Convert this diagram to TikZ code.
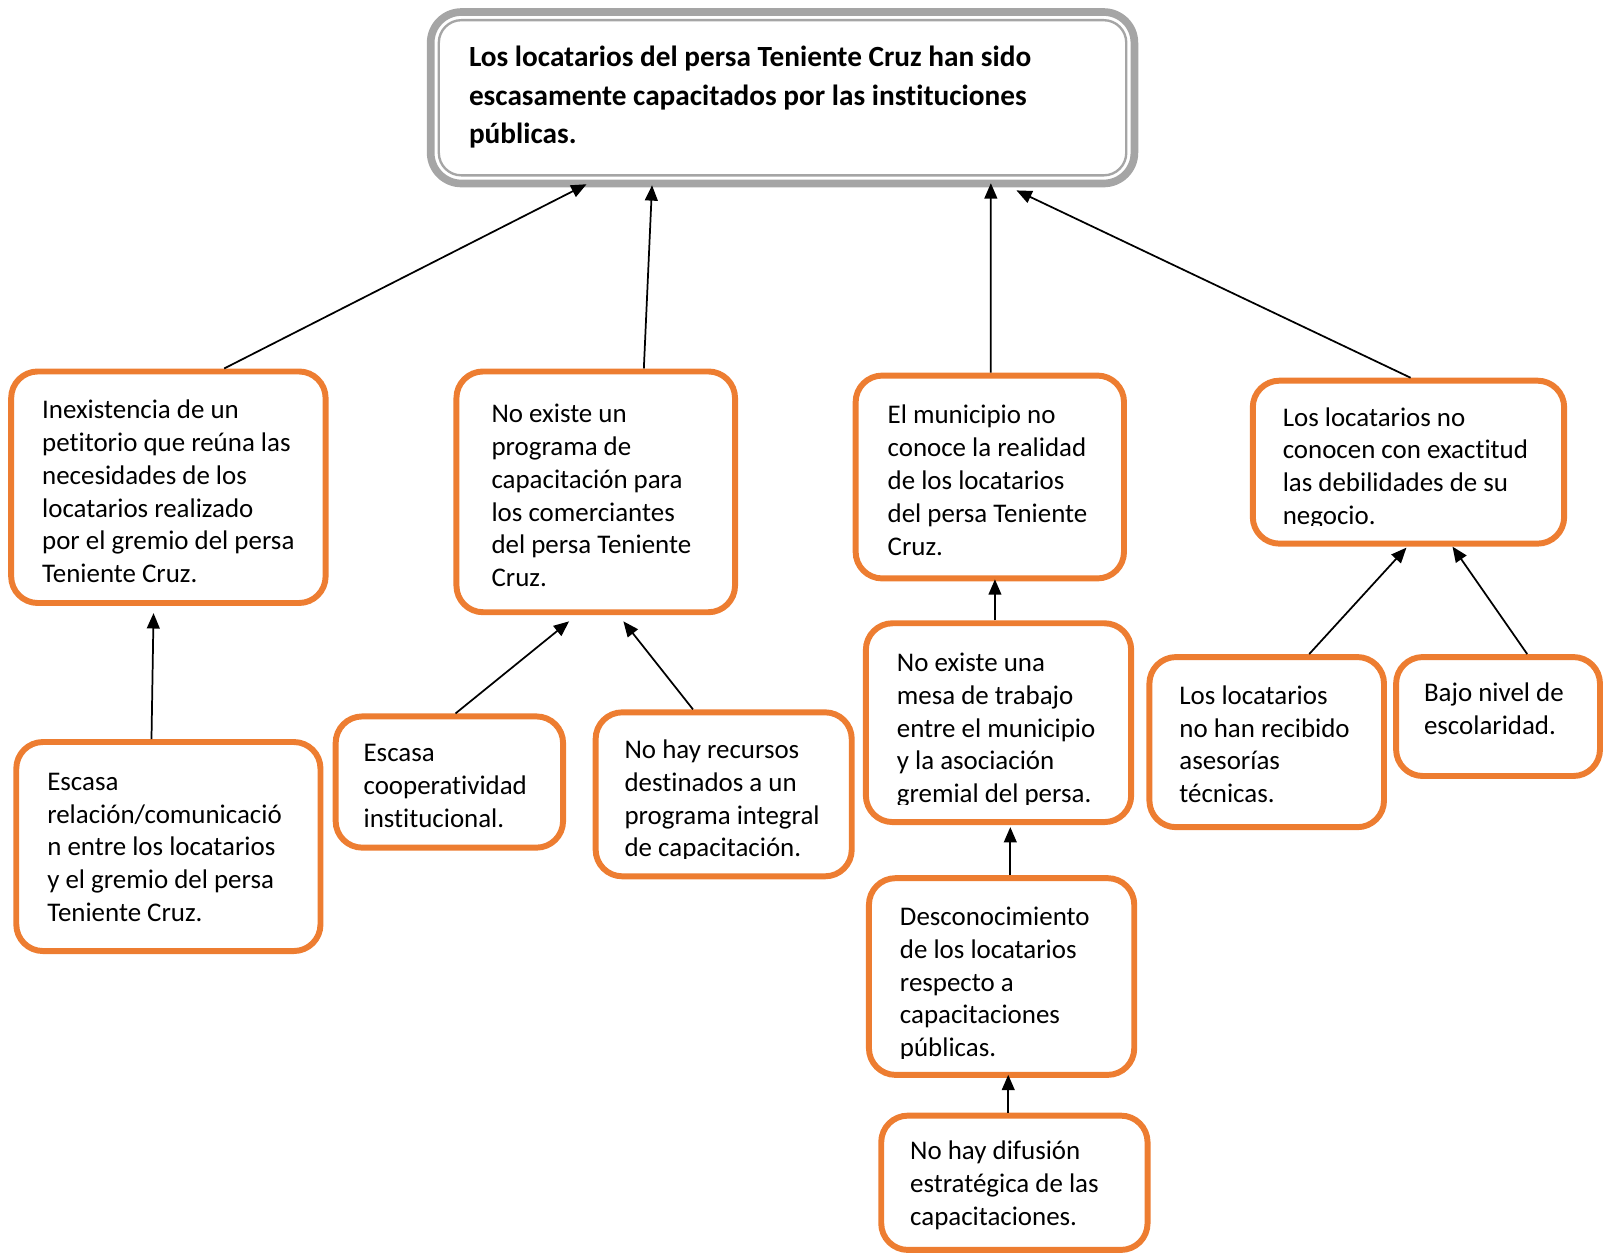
\documentclass[tikz,border=0pt]{standalone}
\usepackage{fontspec}
\setmainfont{Carlito}[Ligatures=NoCommon]
\usetikzlibrary{arrows.meta}
\definecolor{boxorange}{HTML}{ED7D31}
\definecolor{framegray}{HTML}{A5A5A5}
\tikzset{
  causebox/.style={draw=boxorange, line width=5.8pt, rounded corners=26pt, fill=white,
    inner sep=0pt, outer sep=2.9pt, anchor=north west},
  causetext/.style={anchor=north west, inner sep=0pt, align=left,
    font=\fontsize{26.3}{32}\selectfont},
  link/.style={line width=1.7pt, -{Triangle[length=15pt,width=12.5pt]}},
}
% box by its outer edges: name, left, top, right, bottom
\newcommand{\boxat}[5]{\node[causebox, minimum width={(#4-#2-5.8)*1pt},
  minimum height={(#5-#3-5.8)*1pt}] (#1) at (#2,#3) {};}
% text block by left edge and first baseline
\newcommand{\textat}[4]{\node[causetext] (#1) at (#2,#3-24) {\rule{0pt}{24pt}#4};}
\begin{document}
\begin{tikzpicture}[x=1pt, y=-1pt]
\useasboundingbox (0,0) rectangle (1568,1227);

% main problem box with its double grey frame
\node[draw=framegray, line width=7.5pt, rounded corners=30pt, fill=white, inner sep=0pt,
  outer sep=3.75pt, anchor=north west, minimum width=687.5pt, minimum height=167.5pt]
  (top) at (417,8) {};
\draw[framegray, line width=2.3pt, rounded corners=22pt]
  ([xshift=11.7pt,yshift=-11.7pt]top.north west) rectangle ([xshift=-11.7pt,yshift=11.7pt]top.south east);
\node[causetext, font=\bfseries\fontsize{28.6}{37.5}\selectfont] (toptext) at (458,65-24)
  {\rule{0pt}{24pt}Los locatarios del persa Teniente Cruz han sido\\escasamente capacitados por las instituciones\\públicas.};

% cause boxes
\boxat{A}{8}{360}{321}{592}
\boxat{B}{443}{360}{721}{601}
\boxat{C}{833}{364}{1101}{568}
\boxat{D}{1221}{369}{1531}{534}
\boxat{E}{13}{722}{316}{932}
\boxat{F}{325}{697}{553}{831}
\boxat{G}{579}{693}{835}{859}
\boxat{H}{843}{606}{1108}{806}
\boxat{I}{846}{855}{1111}{1053}
\boxat{J}{858}{1087}{1124}{1224}
\boxat{K}{1120}{639}{1355}{811}
\boxat{L}{1361}{639}{1566}{761}

% box texts
\textat{tA}{41}{409}{Inexistencia de un\\petitorio que reúna las\\necesidades de los\\locatarios realizado\\por el gremio del persa\\Teniente Cruz.}
\textat{tB}{480}{413}{No existe un\\programa de\\capacitación para\\los comerciantes\\del persa Teniente\\Cruz.}
\textat{tC}{867}{414}{El municipio no\\conoce la realidad\\de los locatarios\\del persa Teniente\\Cruz.}
\begin{scope}
  \clip (1225,373) rectangle (1527,513);
  \textat{tD}{1253}{416}{Los locatarios no\\conocen con exactitud\\las debilidades de su\\negocio.}
\end{scope}
\textat{tE}{46}{772}{Escasa\\relación/comunicació\\n entre los locatarios\\y el gremio del persa\\Teniente Cruz.}
\textat{tF}{355}{744}{Escasa\\cooperatividad\\institucional.}
\begin{scope}
  \clip (583,697) rectangle (831,839);
  \textat{tG}{610}{741}{No hay recursos\\destinados a un\\programa integral\\de capacitación.}
\end{scope}
\begin{scope}
  \clip (847,610) rectangle (1104,786);
  \textat{tH}{876}{656}{No existe una\\mesa de trabajo\\entre el municipio\\y la asociación\\gremial del persa.}
\end{scope}
\begin{scope}
  \clip (850,859) rectangle (1107,1034);
  \textat{tI}{879}{904}{Desconocimiento\\de los locatarios\\respecto a\\capacitaciones\\públicas.}
\end{scope}
\textat{tJ}{889}{1133}{No hay difusión\\estratégica de las\\capacitaciones.}
\textat{tK}{1152}{688}{Los locatarios\\no han recibido\\asesorías\\técnicas.}
\textat{tL}{1391}{685}{Bajo nivel de\\escolaridad.}

% cause-effect links
\draw[link] ([xshift=54.5pt]A.north) -- ([xshift=-191.5pt,yshift=3pt]top.south);
\draw[link] ([xshift=47pt]B.north) -- ([xshift=-127.5pt,yshift=2pt]top.south);
\draw[link] ([xshift=1pt]C.north) -- ([xshift=203.5pt,yshift=4pt]top.south);
\draw[link] ([xshift=2pt]D.north) -- ([xshift=228.5pt,yshift=-3pt]top.south);
\draw[link] ([xshift=-16.5pt]E.north) -- ([xshift=-14.5pt,yshift=-7pt]A.south);
\draw[link] ([xshift=6pt]F.north) -- ([xshift=-26pt,yshift=-6pt]B.south);
\draw[link] ([xshift=-30pt]G.north) -- ([xshift=27pt,yshift=-6pt]B.south);
\draw[link] ([xshift=-3.5pt]H.north) -- ([xshift=5pt,yshift=2pt]C.south);
\draw[link] ([xshift=8.5pt]I.north) -- ([xshift=11.5pt,yshift=-2pt]H.south);
\draw[link] ([xshift=-6pt]J.north) -- ([xshift=6.5pt,yshift=3pt]I.south);
\draw[link] ([xshift=41.5pt]K.north) -- ([xshift=-2pt,yshift=-1pt]D.south);
\draw[link] ([xshift=28.5pt]L.north) -- ([xshift=43pt]D.south);
\end{tikzpicture}
\end{document}
